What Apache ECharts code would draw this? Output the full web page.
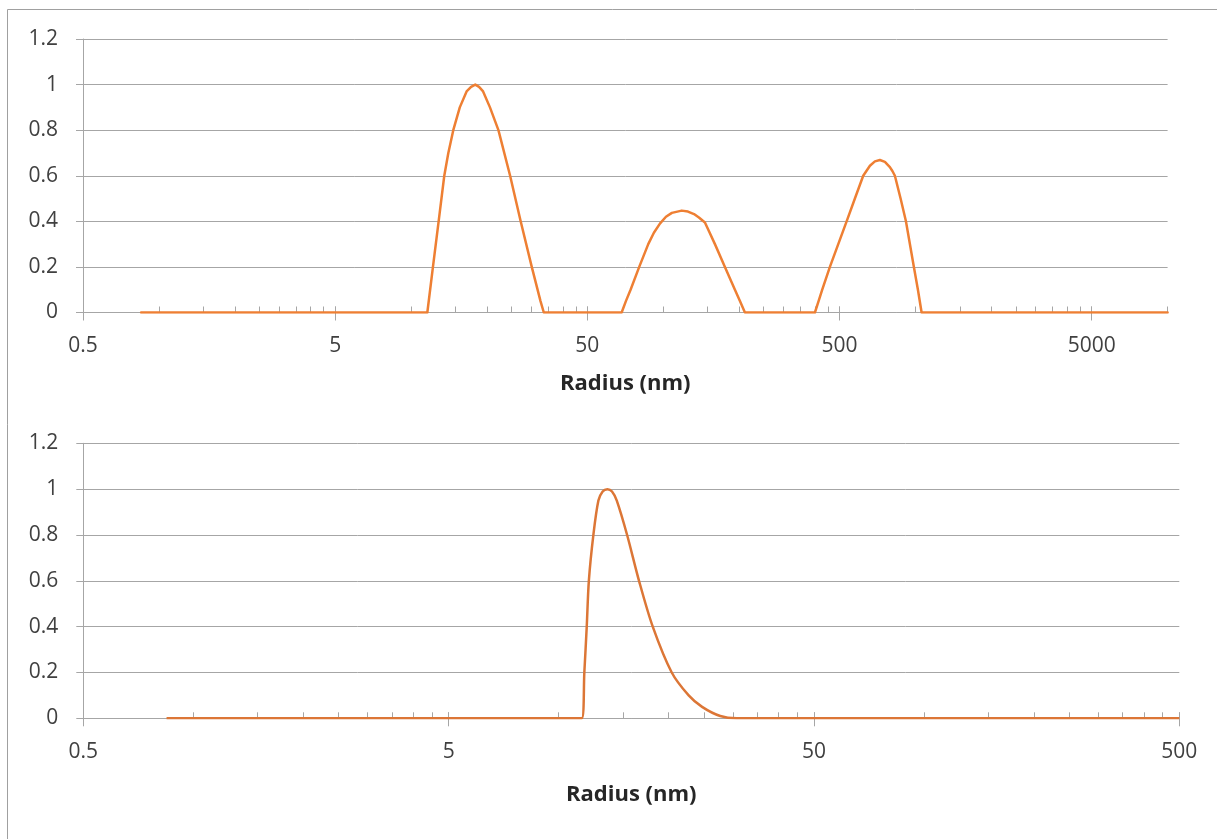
<!DOCTYPE html>
<html>
<head>
<meta charset="utf-8">
<script src="https://cdn.jsdelivr.net/npm/echarts@6/dist/echarts.min.js"></script>
<style>
html,body{margin:0;padding:0;background:#fff;}
#chart{width:1217px;height:839px;}
</style>
</head>
<body>
<div id="chart"></div>
<script>
// ---- Data ----
// Top panel: radius (nm) and normalised intensity
const topRadius = [0.85, 11.6, 12.21, 12.86, 13.54, 14.05, 14.7, 15.6, 16.6, 17.3, 17.97, 18.6, 19.3, 20.55, 22.2, 24.7, 27.2, 30.1, 32.6, 33.6,
  68.4, 71.1, 74.2, 80.3, 87.2, 91.8, 97.0, 102.5, 108.2, 118.4, 125.3, 132.4, 138.5, 146.3, 152, 160.3, 175.6, 192.4, 201.4, 210.8,
  399.4, 413, 427, 458, 533.5, 575.4, 620.8, 660, 690.8, 723, 756.8, 792, 810.3, 829, 873.3, 917, 986, 1023, 1058, 10000];
const topIntensity = [0, 0, 0.2, 0.4, 0.6, 0.7, 0.8, 0.9, 0.97, 0.99, 1.0, 0.99, 0.97, 0.9, 0.8, 0.6, 0.4, 0.2, 0.05, 0,
  0, 0.05, 0.1, 0.2, 0.3, 0.35, 0.39, 0.42, 0.437, 0.447, 0.443, 0.432, 0.417, 0.395, 0.355, 0.3, 0.2, 0.1, 0.05, 0,
  0, 0.05, 0.1, 0.2, 0.4, 0.5, 0.6, 0.644, 0.663, 0.669, 0.661, 0.638, 0.621, 0.6, 0.5, 0.4, 0.2, 0.1, 0, 0];

// Bottom panel
const bottomRadius = [0.845, 11.57, 11.76, 11.94, 12.1, 12.45, 12.85, 13.2, 13.6, 14.0, 14.43, 15.4, 16.6, 18.1, 20.4, 22.7, 24.7, 27.7, 30.7, 500];
const bottomIntensity = [0, 0, 0.2, 0.4, 0.6, 0.8, 0.95, 0.99, 1.0, 0.99, 0.95, 0.8, 0.6, 0.4, 0.2, 0.1, 0.05, 0.01, 0, 0];

// Axis ticks / labels
const topMajorTicks = [0.5, 5, 50, 500, 5000];
const bottomMajorTicks = [0.5, 5, 50, 500];
const topXMax = 10000;
const bottomXMax = 500;
const yTicks = [0, 0.2, 0.4, 0.6, 0.8, 1, 1.2];
const xTitle = 'Radius (nm)';

// minor ticks at 0.5*k*10^n (k = 2..9), like the reference's log axis
function minorTicks(majors, max) {
  const out = [];
  majors.forEach(m => {
    for (let k = 2; k <= 10; k++) {
      const v = +(m * k).toPrecision(6);
      if (v <= max + 1e-9) out.push(v);
    }
  });
  return out;
}

const FONT = '"Open Sans", "Noto Sans", sans-serif';
const LABEL_COLOR = '#404040';
const AXIS_COLOR = '#a6a6a6';
const fmt = v => String(+(+v).toPrecision(6));

function pairs(xs, ys) { return xs.map((x, i) => [x, ys[i]]); }

function xAxesFor(gridIndex, majors, max, labelMargin, nameGap) {
  const minors = minorTicks(majors, max);
  return [
    {
      type: 'log', logBase: 10, gridIndex, min: 0.5, max, position: 'bottom',
      axisLine: { show: true, lineStyle: { color: AXIS_COLOR, width: 1 } },
      axisTick: { show: true, inside: false, length: 8, customValues: majors, lineStyle: { color: AXIS_COLOR } },
      minorTick: { show: false },
      axisLabel: { show: true, customValues: majors, formatter: fmt, color: LABEL_COLOR, fontSize: 21, fontFamily: FONT, margin: labelMargin, showMinLabel: true, showMaxLabel: true },
      splitLine: { show: false },
      name: xTitle, nameLocation: 'middle', nameGap,
      nameTextStyle: { fontSize: 22, fontWeight: 'bold', color: '#262626', fontFamily: FONT }
    },
    {
      type: 'log', logBase: 10, gridIndex, min: 0.5, max, position: 'bottom', offset: 0,
      axisLine: { show: false },
      axisTick: { show: true, inside: true, length: 6, customValues: majors.concat(minors), lineStyle: { color: AXIS_COLOR } },
      axisLabel: { show: false },
      splitLine: { show: false }
    }
  ];
}

function yAxisFor(gridIndex) {
  return {
    type: 'value', gridIndex, min: yTicks[0], max: yTicks[yTicks.length - 1], interval: 0.2,
    axisLine: { show: true, lineStyle: { color: AXIS_COLOR } },
    axisTick: { show: true, length: 7, lineStyle: { color: AXIS_COLOR } },
    axisLabel: { color: LABEL_COLOR, fontSize: 21, fontFamily: FONT, margin: 25, formatter: v => fmt(v) },
    splitLine: { show: true, lineStyle: { color: AXIS_COLOR, width: 1 } }
  };
}

const chart = echarts.init(document.getElementById('chart'), null, { renderer: 'canvas' });
chart.setOption({
  animation: false,
  backgroundColor: '#fff',
  grid: [
    { left: 83, top: 39, width: 1084.6, height: 273.5 },
    { left: 83.3, top: 443.3, width: 1096, height: 275 }
  ],
  xAxis: [
    ...xAxesFor(0, topMajorTicks, topXMax, 23, 60),
    ...xAxesFor(1, bottomMajorTicks, bottomXMax, 23, 65)
  ],
  yAxis: [yAxisFor(0), yAxisFor(1)],
  series: [
    {
      type: 'line', xAxisIndex: 0, yAxisIndex: 0, data: pairs(topRadius, topIntensity),
      showSymbol: false, smooth: false,
      lineStyle: { color: '#EE7F33', width: 2.5, join: 'round', cap: 'round' }, itemStyle: { color: '#EE7F33' }
    },
    {
      type: 'line', xAxisIndex: 2, yAxisIndex: 1, data: pairs(bottomRadius, bottomIntensity),
      showSymbol: false, smooth: 0.3,
      lineStyle: { color: '#DC7636', width: 2.5 }, itemStyle: { color: '#DC7636' }
    }
  ],
  graphic: [
    { type: 'line', shape: { x1: 7.5, y1: 9.5, x2: 1217, y2: 9.5 }, style: { stroke: '#a0a0a0', lineWidth: 1 } },
    { type: 'line', shape: { x1: 7.5, y1: 9.5, x2: 7.5, y2: 839 }, style: { stroke: '#a0a0a0', lineWidth: 1 } }
  ]
});
</script>
</body>
</html>
